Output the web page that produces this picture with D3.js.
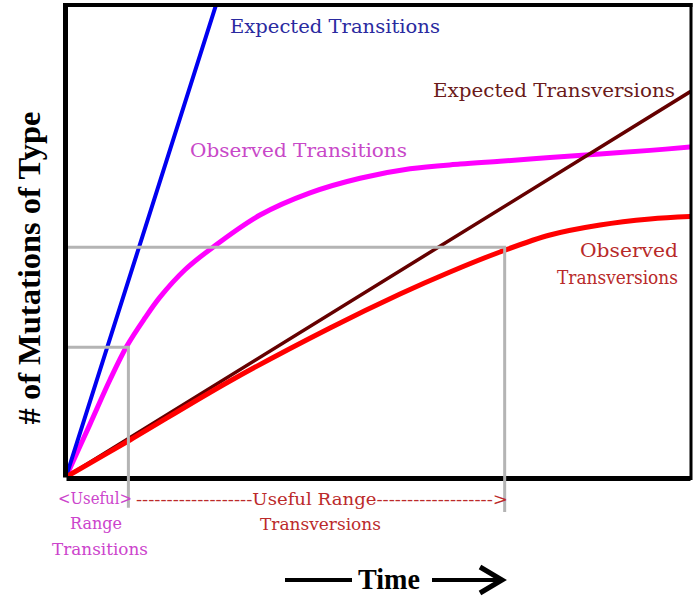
<!DOCTYPE html>
<html><head><meta charset="utf-8">
<script src="https://cdn.jsdelivr.net/npm/d3@7"></script>
<style>body{margin:0;background:#fff}svg{display:block;background:#fff}</style>
</head><body><svg id="c" width="693" height="597"></svg>
<script>
// ---- data (time units 0-100, mutation count units 0-100) ----
const expTransT = [0, 25];
const expTransV = [0, 104];
const obsTransT = [0, 3.85, 7.05, 9.78, 12.66, 15.06, 19.07, 23.56, 31.09, 39.1, 47.12, 55.13, 63.14, 69.55, 77.56, 85.58, 93.59, 100];
const obsTransV = [0, 11.2, 20.6, 27.8, 33.7, 38.1, 43.9, 48.7, 55.5, 60.2, 63.3, 65.3, 66.3, 66.9, 67.67, 68.43, 69.2, 69.9];
const expTvT = [0, 100];
const expTvV = [0, 81.6];
const obsTvT = [0, 10.26, 26.28, 42.31, 53.53, 61.54, 69.55, 77.56, 85.58, 93.59, 100];
const obsTvV = [0, 7.84, 20.34, 31.57, 38.77, 43.43, 47.67, 51.27, 53.39, 54.66, 55.19];
const guideTransT = [0, 10, 10];
const guideTransV = [27.5, 27.5, -6.5];
const guideTvT = [0, 70.3, 70.3];
const guideTvV = [48.7, 48.7, -7.4];
const yTitle = "# of Mutations of Type";
const xTitle = "Time";

const svg = d3.select("#c");
const x = d3.scaleLinear().domain([0, 100]).range([66, 690]);
const y = d3.scaleLinear().domain([0, 100]).range([477, 5]);
const zip = (a, b) => a.map((v, i) => [v, b[i]]);

svg.append("clipPath").attr("id", "clip").append("rect")
  .attr("x", x(0)).attr("y", y(100)).attr("width", x(100) - x(0)).attr("height", y(0) - y(100));

const lineLin = d3.line().x(d => x(d[0])).y(d => y(d[1]));
const lineCurve = d3.line().x(d => x(d[0])).y(d => y(d[1])).curve(d3.curveCatmullRom.alpha(0.5));

const plot = svg.append("g").attr("clip-path", "url(#clip)");
const series = [
  {pts: zip(obsTransT, obsTransV), gen: lineCurve, color: "#ff00ff", w: 5},
  {pts: zip(expTransT, expTransV), gen: lineLin, color: "#0000f0", w: 4},
  {pts: zip(expTvT, expTvV), gen: lineLin, color: "#650000", w: 3.5},
  {pts: zip(obsTvT, obsTvV), gen: lineCurve, color: "#ff0000", w: 5}
];
series.forEach(s => {
  plot.append("path").attr("d", s.gen(s.pts)).attr("fill", "none")
    .attr("stroke", s.color).attr("stroke-width", s.w).attr("stroke-linecap", "round");
});

// bottom axis (frame bottom)
svg.append("g").attr("transform", `translate(0,${y(0) + 1})`)
  .call(d3.axisBottom(x).tickValues([]).tickSizeOuter(0))
  .call(g => g.select(".domain").attr("stroke", "#000").attr("stroke-width", 5));

// guides
[[guideTransT, guideTransV], [guideTvT, guideTvV]].forEach(([t, v]) => {
  svg.append("path").attr("d", lineLin(zip(t, v))).attr("fill", "none")
    .attr("stroke", "#b4b4b4").attr("stroke-width", 3);
});

// left axis + top/right frame
svg.append("g").attr("transform", `translate(${x(0) - 1},0)`)
  .call(d3.axisLeft(y).tickValues([]).tickSizeOuter(0))
  .call(g => g.select(".domain").attr("stroke", "#000").attr("stroke-width", 5));
svg.append("line").attr("x1", x(0) - 3).attr("x2", x(100) + 2.5).attr("y1", y(100)).attr("y2", y(100))
  .attr("stroke", "#000").attr("stroke-width", 4);
svg.append("line").attr("x1", x(100) + 1).attr("x2", x(100) + 1).attr("y1", y(100) - 2).attr("y2", y(0) + 3)
  .attr("stroke", "#000").attr("stroke-width", 3);

// labels
const serif = "'DejaVu Serif', serif";
const labels = [
  {t: "Expected Transitions", x: 230, y: 33, len: 210, size: 19, c: "#2a2aa0"},
  {t: "Expected Transversions", x: 433, y: 97, len: 242, size: 19, c: "#6a1a1a"},
  {t: "Observed Transitions", x: 190, y: 157, len: 217, size: 19, c: "#c848c8"},
  {t: "Observed", x: 580, y: 257, len: 98, size: 19, c: "#b82a2a"},
  {t: "Transversions", x: 557, y: 284, len: 121, size: 19, c: "#b82a2a"},
  {t: "<Useful>", x: 58, y: 504, len: 74, size: 17, c: "#cc44cc"},
  {t: "Range", x: 70, y: 529, len: 52, size: 17, c: "#cc44cc"},
  {t: "Transitions", x: 52, y: 555, len: 96, size: 17, c: "#cc44cc"},
  {t: "-------------------Useful Range------------------->", x: 136, y: 505, len: 372, size: 17, c: "#bb2a2a"},
  {t: "Transversions", x: 260, y: 530, len: 121, size: 17, c: "#bb2a2a"}
];
labels.forEach(l => {
  svg.append("text").attr("x", l.x).attr("y", l.y).text(l.t)
    .attr("font-family", serif).attr("font-size", l.size).attr("fill", l.c)
    .attr("textLength", l.len).attr("lengthAdjust", "spacingAndGlyphs");
});

svg.append("text").attr("transform", "translate(40,268) rotate(-90)")
  .attr("text-anchor", "middle").text(yTitle)
  .attr("font-family", "'Liberation Serif', serif").attr("font-weight", "bold")
  .attr("font-size", 31).attr("textLength", 313).attr("lengthAdjust", "spacingAndGlyphs");

svg.append("text").attr("x", 358).attr("y", 589).text(xTitle)
  .attr("font-family", "'Liberation Serif', serif").attr("font-weight", "bold")
  .attr("font-size", 29).attr("textLength", 62).attr("lengthAdjust", "spacingAndGlyphs");

svg.append("line").attr("x1", 285).attr("x2", 352).attr("y1", 580).attr("y2", 580)
  .attr("stroke", "#000").attr("stroke-width", 4);
svg.append("line").attr("x1", 432).attr("x2", 500).attr("y1", 580).attr("y2", 580)
  .attr("stroke", "#000").attr("stroke-width", 4);
svg.append("path").attr("d", "M480,567 L502,580 L480,593").attr("fill", "none")
  .attr("stroke", "#000").attr("stroke-width", 5).attr("stroke-linejoin", "miter");
</script></body></html>
